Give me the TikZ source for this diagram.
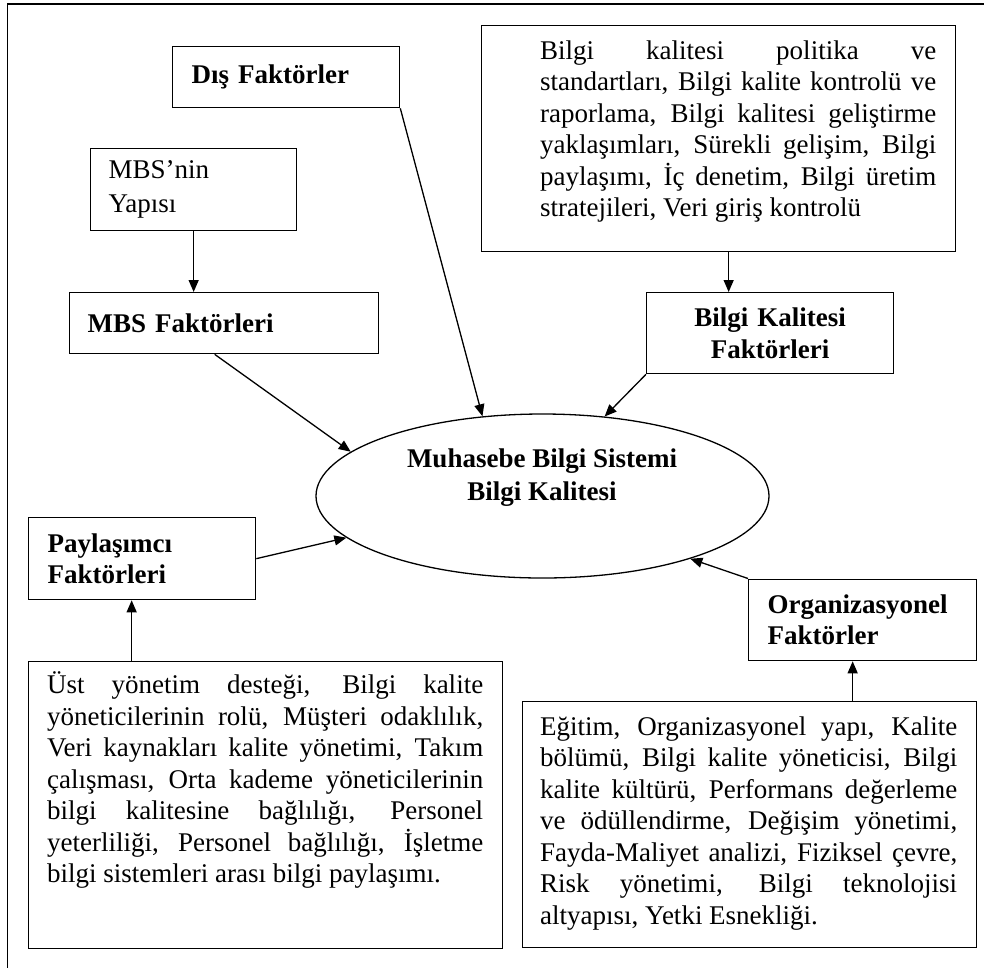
\documentclass[tikz,border=0pt]{standalone}
\usepackage{fontspec}
\setmainfont{Liberation Serif}
\usetikzlibrary{positioning, arrows.meta, shapes.geometric}

\begin{document}
\begin{tikzpicture}[
  x=1pt, y=-1pt,
  factor/.style={draw, line width=1.3pt, anchor=north west, inner ysep=0pt,
                 align=left, font=\fontsize{27}{31.5}\selectfont\bfseries},
  listbox/.style={draw, line width=1.3pt, anchor=north west, inner sep=0pt},
  listtext/.style={anchor=base west, inner sep=0pt, align=justify,
                   font=\fontsize{27}{31.5}\selectfont},
  arr/.style={-{Triangle[length=12pt,width=10pt]}, line width=1.3pt},
]
  \useasboundingbox (0,0) rectangle (984,967);
  \fill[white] (0,0) rectangle (984,967);
  \clip (0,0) rectangle (984,967);
  \draw[line width=1.3pt] (7.5,4) rectangle (1100,1100);

  % left column
  \node[factor, minimum width=227pt, minimum height=61pt, inner xsep=19pt, text width=189pt]
    (dis) at (172,46) {Dış Faktörler};
  \node[factor, font=\fontsize{27}{34}\selectfont, minimum width=206pt, minimum height=82pt,
        inner xsep=18pt, text width=170pt]
    (yapi) at (90,148) {MBS’nin\\Yapısı};
  \node[factor, minimum width=309pt, minimum height=61pt, inner xsep=18pt, text width=273pt]
    (mbsf) at (69,292) {MBS Faktörleri};

  % right column
  \node[listbox, minimum width=474pt, minimum height=226pt] (polbox) at (481,25) {};
  \node[listtext, text width=396pt] (poltext) at (540,59)
    {Bilgi kalitesi politika ve\linebreak
     standartları, Bilgi kalite kontrolü ve\linebreak
     raporlama, Bilgi kalitesi geliştirme\linebreak
     yaklaşımları, Sürekli gelişim, Bilgi\linebreak
     paylaşımı, İç denetim, Bilgi üretim\linebreak
     stratejileri, Veri giriş kontrolü};
  \node[factor, align=center, font=\fontsize{27}{32}\selectfont\bfseries,
        minimum width=247pt, minimum height=81pt, inner xsep=10pt, text width=227pt]
    (bk) at (646,292) {Bilgi Kalitesi\\Faktörleri};

  % centre
  \node[draw, ellipse, line width=1.3pt, minimum width=453pt, minimum height=164pt,
        inner sep=0pt] (mbs) at (542.5,496) {};
  \node[align=center, font=\fontsize{27}{33}\selectfont\bfseries]
    (mbstext) at (542,478) {Muhasebe Bilgi Sistemi\\Bilgi Kalitesi};

  % bottom
  \node[factor, minimum width=227pt, minimum height=82pt, inner xsep=19pt, text width=189pt]
    (pay) at (28,517) {Paylaşımcı\\Faktörleri};
  \node[listbox, minimum width=474pt, minimum height=287pt] (blbox) at (28,661) {};
  \node[listtext, text width=436pt] (bltext) at (47,693.5)
    {Üst yönetim desteği, Bilgi kalite\linebreak
     yöneticilerinin rolü, Müşteri odaklılık,\linebreak
     Veri kaynakları kalite yönetimi, Takım\linebreak
     çalışması, Orta kademe yöneticilerinin\linebreak
     bilgi kalitesine bağlılığı, Personel\linebreak
     yeterliliği, Personel bağlılığı, İşletme\linebreak
     bilgi sistemleri arası bilgi paylaşımı.};
  \node[factor, minimum width=228pt, minimum height=81.5pt, inner xsep=19pt, text width=190pt]
    (org) at (748,578.5) {Organizasyonel\\Faktörler};
  \node[listbox, minimum width=454pt, minimum height=246pt] (brbox) at (522,701) {};
  \node[listtext, text width=417pt] (brtext) at (540,735)
    {Eğitim, Organizasyonel yapı, Kalite\linebreak
     bölümü, Bilgi kalite yöneticisi, Bilgi\linebreak
     kalite kültürü, Performans değerleme\linebreak
     ve ödüllendirme, Değişim yönetimi,\linebreak
     Fayda-Maliyet analizi, Fiziksel çevre,\linebreak
     Risk yönetimi, Bilgi teknolojisi\linebreak
     altyapısı, Yetki Esnekliği.};

  % arrows
  \draw[arr] (yapi) -- (yapi |- mbsf.north);
  \draw[arr] ([xshift=10pt]polbox.south) -- ([xshift=10pt]polbox.south |- bk.north);
  \draw[arr] (dis.south east) -- (mbs.127);
  \draw[arr] ([xshift=-9.5pt]mbsf.south) -- (mbs.167);
  \draw[arr] (bk.south west) -- (mbs.52);
  \draw[arr] (pay.east) -- (mbs.192);
  \draw[arr] (org.north west) -- (mbs.337);
  \draw[arr] ([xshift=-10.5pt]pay.south |- blbox.north) -- ([xshift=-10.5pt]pay.south);
  \draw[arr] ([xshift=-10pt]org.south |- brbox.north) -- ([xshift=-10pt]org.south);
\end{tikzpicture}
\end{document}
